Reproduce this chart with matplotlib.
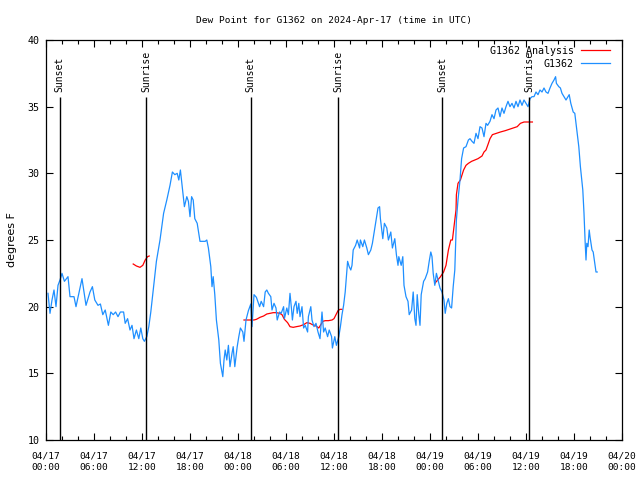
import numpy as np
import pandas as pd
import matplotlib
matplotlib.use("Agg")
import matplotlib.pyplot as plt
import matplotlib.dates as mdates

# hours since 2024-04-17 00:00 UTC
obs_hours = [0.25, 0.5, 0.75, 1.0, 1.25, 1.5, 1.75, 2.0, 2.3, 2.75, 3.0, 3.5, 3.75, 4.2, 4.5,
             4.75, 5.0, 5.5, 5.8, 6.1, 6.5, 6.8, 7.1, 7.4, 7.8, 8.1, 8.4, 8.7, 9.0, 9.3,
             9.7, 9.9, 10.2, 10.5, 10.75, 11.0, 11.3, 11.6, 11.85, 12.1, 12.3, 12.6, 12.85, 13.1, 13.4,
             13.8, 14.25, 14.7, 15.1, 15.5, 15.8, 16.1, 16.4, 16.6, 16.8, 17.1, 17.3, 17.6, 17.8, 18.0,
             18.2, 18.4, 18.6, 18.9, 19.25, 19.9, 20.1, 20.3, 20.6, 20.75, 20.9, 21.1, 21.3, 21.6, 21.8,
             22.1, 22.25, 22.4, 22.6, 22.8, 23.0, 23.25, 23.4, 23.6, 23.9, 24.1, 24.3, 24.6, 24.75, 25.0,
             25.3, 25.6, 25.75, 26.0, 26.3, 26.7, 26.9, 27.2, 27.4, 27.6, 27.8, 28.1, 28.25, 28.5, 28.75,
             28.9, 29.2, 29.4, 29.7, 29.8, 30.1, 30.3, 30.5, 30.7, 30.8, 31.0, 31.25, 31.4, 31.6, 31.75,
             32.0, 32.2, 32.4, 32.7, 32.8, 33.1, 33.25, 33.5, 33.75, 34.0, 34.25, 34.5, 34.7, 34.9, 35.2,
             35.4, 35.7, 35.8, 36.1, 36.3, 36.6, 36.8, 37.0, 37.2, 37.4, 37.6, 37.7, 37.9, 38.1, 38.25,
             38.4, 38.7, 38.9, 39.2, 39.3, 39.6, 39.8, 40.1, 40.3, 40.6, 40.8, 41.1, 41.25, 41.5, 41.7,
             41.8, 42.1, 42.3, 42.6, 42.8, 43.1, 43.3, 43.6, 43.8, 44.0, 44.1, 44.4, 44.6, 44.75, 45.0,
             45.25, 45.4, 45.7, 45.9, 46.1, 46.25, 46.4, 46.6, 46.75, 46.9, 47.2, 47.4, 47.7, 47.9, 48.1,
             48.25, 48.4, 48.6, 48.8, 49.0, 49.25, 49.5, 49.75, 49.9, 50.1, 50.3, 50.5, 50.7, 50.9, 51.1,
             51.3, 51.5, 51.75, 51.95, 52.2, 52.5, 52.8, 53.0, 53.25, 53.5, 53.75, 54.0, 54.25, 54.5, 54.75,
             55.0, 55.2, 55.5, 55.75, 56.0, 56.25, 56.5, 56.75, 57.0, 57.25, 57.5, 57.75, 58.0, 58.25, 58.5,
             58.75, 59.0, 59.25, 59.5, 59.75, 60.0, 60.25, 60.5, 60.75, 61.0, 61.25, 61.5, 61.75, 62.0, 62.25,
             62.5, 62.75, 63.0, 63.25, 63.5, 63.7, 63.8, 64.1, 64.3, 64.5, 64.75, 65.0, 65.25, 65.4, 65.6,
             65.9, 66.1, 66.3, 66.6, 66.8, 67.1, 67.25, 67.4, 67.5, 67.6, 67.75, 67.9, 68.0, 68.25, 68.4,
             68.6, 68.75, 68.9]
obs_dewpt = [21.0, 19.5, 20.5, 21.25, 20.0, 21.6, 22.0, 22.5, 21.9, 22.25, 20.75, 20.75, 20.0, 21.25, 22.1,
             21.1, 20.1, 21.1, 21.5, 20.5, 20.1, 20.2, 19.4, 19.75, 18.6, 19.6, 19.4, 19.6, 19.25, 19.6,
             19.6, 18.75, 19.1, 18.25, 18.6, 17.6, 18.25, 17.6, 18.4, 17.6, 17.4, 17.75, 18.5, 19.6, 21.2,
             23.4, 25.0, 27.0, 28.0, 29.1, 30.1, 29.9, 30.0, 29.5, 30.25, 28.6, 27.5, 28.25, 27.9, 26.75,
             28.25, 28.0, 26.6, 26.25, 24.9, 24.9, 25.0, 24.4, 23.0, 21.5, 22.25, 20.9, 19.0, 17.5, 15.75,
             14.75, 16.0, 16.75, 16.0, 17.1, 15.5, 16.5, 17.0, 15.5, 17.0, 17.75, 18.4, 18.1, 17.4, 19.0,
             19.7, 20.2, 18.5, 20.9, 20.7, 20.0, 20.4, 20.0, 21.1, 21.25, 21.0, 20.75, 19.75, 20.25, 19.9,
             19.0, 19.6, 19.5, 20.0, 19.1, 19.9, 19.4, 21.0, 19.75, 19.0, 20.0, 20.4, 19.5, 20.25, 19.25,
             20.0, 18.4, 18.6, 18.1, 19.25, 20.0, 19.0, 18.5, 18.75, 18.1, 17.6, 19.6, 18.1, 18.4, 17.75,
             18.25, 17.75, 16.9, 17.75, 17.1, 17.75, 18.5, 19.4, 20.1, 21.1, 22.6, 23.4, 23.0, 22.75, 23.1,
             24.25, 24.6, 25.0, 24.4, 25.0, 24.5, 25.0, 24.4, 23.9, 24.25, 24.75, 25.9, 26.5, 27.4, 27.5,
             26.6, 25.1, 26.25, 25.9, 25.0, 25.6, 24.4, 25.1, 23.9, 23.1, 23.75, 23.1, 23.75, 21.6, 20.75,
             20.4, 19.4, 19.75, 21.1, 19.1, 18.6, 20.9, 19.4, 18.6, 20.9, 21.9, 22.1, 22.6, 23.4, 24.1,
             23.75, 22.5, 21.6, 22.5, 22.0, 21.4, 21.1, 20.5, 19.5, 20.25, 20.6, 20.0, 19.9, 21.5, 22.75,
             26.5, 28.0, 29.5, 31.1, 31.9, 32.0, 32.5, 32.6, 32.4, 32.25, 33.0, 32.6, 33.5, 33.4, 32.75,
             33.75, 33.6, 33.9, 34.4, 34.1, 34.75, 34.9, 34.25, 34.9, 34.5, 35.0, 35.4, 35.0, 35.25, 34.9,
             35.4, 35.0, 35.5, 35.1, 35.5, 35.25, 35.0, 35.6, 35.75, 35.75, 36.1, 35.9, 36.25, 36.1, 36.4,
             36.1, 36.0, 36.4, 36.75, 37.0, 37.25, 36.75, 36.5, 36.4, 36.0, 35.75, 35.5, 35.75, 35.9, 35.25,
             34.6, 34.5, 33.5, 32.0, 30.5, 28.75, 27.0, 24.75, 23.5, 24.75, 24.5, 25.75, 25.25, 24.25, 24.1,
             23.25, 22.6, 22.6]

# analysis series, gaps marked with nan
ana_hours = [10.9, 11.3, 11.75, 12.1, 12.4, 12.7, 12.9, np.nan,
             24.75, 25.5, 26.0, 26.3, 26.75, 27.2, 27.6, 28.0, 28.4, 28.8, 29.2, 29.5, 29.8, 30.2,
             30.5, 30.9, 31.3, 31.75, 32.2, 32.6, 33.0, 33.3, 33.75, 34.1, 34.3, 34.6, 34.9, 35.3,
             35.75, 36.0, 36.25, 36.5, 36.75, 37.0, np.nan,
             48.6, 49.25, 49.7, 50.0, 50.3, 50.6, 50.8, 51.0, 51.25, 51.3, 51.5, 51.8, 52.2, 52.5,
             52.8, 53.2, 53.6, 54.0, 54.5, 54.75, 55.0, 55.3, 55.5, 55.8, 56.3, 56.8, 57.4, 57.9,
             58.4, 58.9, 59.3, 59.75, 60.25, 60.8]
ana_dewpt = [23.2, 23.05, 22.95, 23.1, 23.5, 23.75, 23.8, np.nan,
             19.0, 19.0, 19.0, 19.05, 19.2, 19.3, 19.45, 19.5, 19.55, 19.55, 19.5, 19.4, 19.05, 18.8,
             18.5, 18.45, 18.5, 18.55, 18.65, 18.8, 18.75, 18.65, 18.55, 18.4, 18.6, 18.9, 18.95, 18.95,
             19.0, 19.1, 19.4, 19.7, 19.8, 19.8, np.nan,
             21.75, 22.2, 22.6, 23.1, 24.25, 25.0, 25.0, 26.0, 27.25, 28.4, 29.25, 29.5, 30.25, 30.6,
             30.75, 30.9, 31.0, 31.1, 31.3, 31.6, 31.75, 32.25, 32.6, 32.9, 33.0, 33.1, 33.2, 33.3,
             33.4, 33.5, 33.75, 33.85, 33.85, 33.85]

sun_hours = [1.7, 12.55, 25.6, 36.5, 49.5, 60.4]
sun_labels = ["Sunset", "Sunrise", "Sunset", "Sunrise", "Sunset", "Sunrise"]

base = mdates.date2num(pd.Timestamp("2024-04-17 00:00"))


def to_time(h):
    # matplotlib date numbers (days), nan stays nan
    return base + np.asarray(h, dtype=float) / 24.0


plt.rcParams["font.family"] = "DejaVu Sans Mono"

fig = plt.figure(figsize=(6.4, 4.8), dpi=100)
ax = fig.add_axes([46 / 640, 40 / 480, 576 / 640, 400 / 480])

ax.plot(to_time(ana_hours), ana_dewpt, color="#ff0000", lw=0.9, label="G1362 Analysis")
ax.plot(to_time(obs_hours), obs_dewpt, color="#1e8fff", lw=0.9, label="G1362")

sun_t = to_time(sun_hours)
ax.vlines(sun_t, 10, 35.7, color="black", lw=1.0)
for t, lab in zip(sun_t, sun_labels):
    ax.text(t, 36.1, lab, rotation=90, ha="center", va="bottom", fontsize=7)

ax.xaxis_date()
ax.set_xlim(base, base + 3)
ax.set_ylim(10, 40)
ax.set_yticks(range(10, 41, 5))
ax.xaxis.set_major_locator(mdates.HourLocator(byhour=[0, 6, 12, 18]))
ax.xaxis.set_minor_locator(mdates.HourLocator(interval=2))
ax.xaxis.set_major_formatter(mdates.DateFormatter("%m/%d\n%H:%M"))

ax.tick_params(which="both", direction="in", top=True, right=True, width=0.8)
ax.tick_params(axis="x", which="major", length=5, pad=8, labelsize=6.8)
ax.tick_params(axis="y", which="major", length=5, pad=4.5, labelsize=7.2)
ax.tick_params(which="minor", length=3)
for t in ax.get_xticklabels():
    t.set_linespacing(1.35)
for s in ax.spines.values():
    s.set_linewidth(0.9)

ax.set_ylabel("degrees F", fontsize=8, family="DejaVu Sans", labelpad=8)
ax.set_title("Dew Point for G1362 on 2024-Apr-17 (time in UTC)", fontsize=6.8, pad=12)

ax.legend(loc="upper right", bbox_to_anchor=(0.979, 0.985), frameon=False, markerfirst=False,
          fontsize=7.2, handlelength=2.9, handletextpad=0.7, labelspacing=0.3,
          borderaxespad=0.0, borderpad=0.0)

fig.savefig("out.png", dpi=100)
